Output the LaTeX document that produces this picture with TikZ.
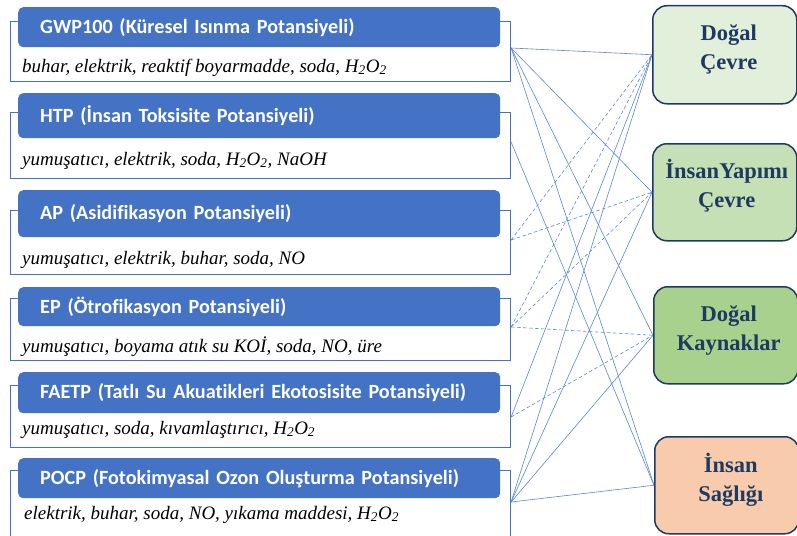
\documentclass[tikz,border=0pt]{standalone}
\usepackage{fontspec}
\setmainfont{Liberation Serif}
\newfontfamily\headfont[Ligatures=NoCommon]{Carlito}
\definecolor{hdblue}{HTML}{4472C4}
\definecolor{linkblue}{HTML}{5A86D2}
\definecolor{navy}{HTML}{1F3864}
\definecolor{navytext}{HTML}{1F3A60}
\definecolor{envlight}{HTML}{E2EFDA}
\definecolor{envmid}{HTML}{C5E0B4}
\definecolor{envdark}{HTML}{A9D18E}
\definecolor{health}{HTML}{F8CBAD}
\begin{document}
\begin{tikzpicture}[x=1pt,y=-1pt,
  frame/.style={draw=hdblue, line width=1.1pt, rectangle, inner sep=0pt,
    anchor=north west, minimum width=500pt},
  head/.style={fill=hdblue, rounded corners=5pt, anchor=north west,
    text width=438pt, inner xsep=22pt, inner ysep=0pt, align=left,
    text=white, font=\headfont\bfseries\fontsize{20.2}{22}\selectfont},
  items/.style={anchor=base west, inner sep=0pt,
    font=\itshape\fontsize{19}{22}\selectfont},
  goal/.style={draw=navy, line width=1.5pt, rounded corners=14pt,
    anchor=north west, minimum width=144pt},
  goaltext/.style={align=center, text=navytext, inner sep=0pt,
    font=\bfseries\fontsize{22.5}{29}\selectfont},
  link/.style={draw=linkblue, line width=0.6pt},
  weak/.style={link, dash pattern=on 3.5pt off 2.5pt}]
\useasboundingbox (0,0) rectangle (797,535);
\clip (0,0) rectangle (797,535);

% impact category frames
\node[frame, minimum height=60pt] (gwpF) at (10,21) {};
\node[frame, minimum height=66pt] (htpF) at (10,112) {};
\node[frame, minimum height=64pt] (apF)  at (10,210) {};
\node[frame, minimum height=62pt] (epF)  at (10,298) {};
\node[frame, minimum height=62pt] (faF)  at (10,385) {};
\node[frame, minimum height=80pt] (poF)  at (10,470) {};

% category titles
\node[head, minimum height=40pt] (gwpH) at (18,7)   {GWP100 (Küresel Isınma Potansiyeli)};
\node[head, minimum height=45pt] (htpH) at (18,93)  {HTP (İnsan Toksisite Potansiyeli)};
\node[head, minimum height=47pt] (apH)  at (18,190) {AP (Asidifikasyon Potansiyeli)};
\node[head, minimum height=39pt] (epH)  at (18,287) {EP (Ötrofikasyon Potansiyeli)};
\node[head, minimum height=41pt] (faH)  at (18,372) {FAETP (Tatlı Su Akuatikleri Ekotosisite Potansiyeli)};
\node[head, minimum height=40pt] (poH)  at (18,458) {POCP (Fotokimyasal Ozon Oluşturma Potansiyeli)};

% contributing inputs
\node[items] (gwpT) at (22,72)  {buhar, elektrik, reaktif boyarmadde, soda, H\textsubscript{2}O\textsubscript{2}};
\node[items] (htpT) at (22,165) {yumuşatıcı, elektrik, soda, H\textsubscript{2}O\textsubscript{2}, NaOH};
\node[items] (apT)  at (22,264) {yumuşatıcı, elektrik, buhar, soda, NO};
\node[items] (epT)  at (22,352) {yumuşatıcı, boyama atık su KOİ, soda, NO, üre};
\node[items] (faT)  at (22,434) {yumuşatıcı, soda, kıvamlaştırıcı, H\textsubscript{2}O\textsubscript{2}};
\node[items] (poT)  at (24,519) {elektrik, buhar, soda, NO, yıkama maddesi, H\textsubscript{2}O\textsubscript{2}};

% areas of protection
\node[goal, fill=envlight, minimum height=98pt] (dc) at (652,5)   {};
\node[goal, fill=envmid,   minimum height=97pt] (iy) at (652,143) {};
\node[goal, fill=envdark,  minimum height=97pt] (dk) at (653,286) {};
\node[goal, fill=health,   minimum height=97pt] (is) at (654,436) {};
\node[goaltext] (dcT) at ([xshift=4pt,yshift=5pt]dc.center) {Doğal\\Çevre};
\node[goaltext] (iyT) at ([xshift=2pt,yshift=7pt]iy.center) {İnsanYapımı\\Çevre};
\node[goaltext] (dkT) at ([xshift=3pt,yshift=5pt]dk.center) {Doğal\\Kaynaklar};
\node[goaltext] (isT) at ([xshift=4pt,yshift=5pt]is.center) {İnsan\\Sağlığı};

% link origins on the frames
\coordinate (gwpP) at ([yshift=-27pt]gwpF.north east);
\coordinate (htpP) at ([yshift=-30pt]htpF.north east);
\coordinate (apP)  at ([yshift=-30pt]apF.north east);
\coordinate (epP)  at ([yshift=-29pt]epF.north east);
\coordinate (faP)  at ([yshift=-32pt]faF.north east);
\coordinate (poP)  at ([yshift=-32pt]poF.north east);

% direct links
\draw[link] (gwpP) -- (dc.west);
\draw[link] (gwpP) -- (iy.west);
\draw[link] (gwpP) -- (dk.west);
\draw[link] (gwpP) -- (is.west);
\draw[link] (htpP) -- (is.west);
\draw[link] (faP)  -- (dc.west);
\draw[link] (poP)  -- (dc.west);
\draw[link] (poP)  -- (iy.west);
\draw[link] (poP)  -- (dk.west);
\draw[link] (poP)  -- (is.west);

% indirect links
\draw[weak] (apP) -- (dc.west);
\draw[weak] (apP) -- (iy.west);
\draw[weak] (epP) -- (dc.west);
\draw[weak] (epP) -- (iy.west);
\draw[weak] (epP) -- (dk.west);
\draw[weak] (faP) -- (dk.west);
\end{tikzpicture}
\end{document}
